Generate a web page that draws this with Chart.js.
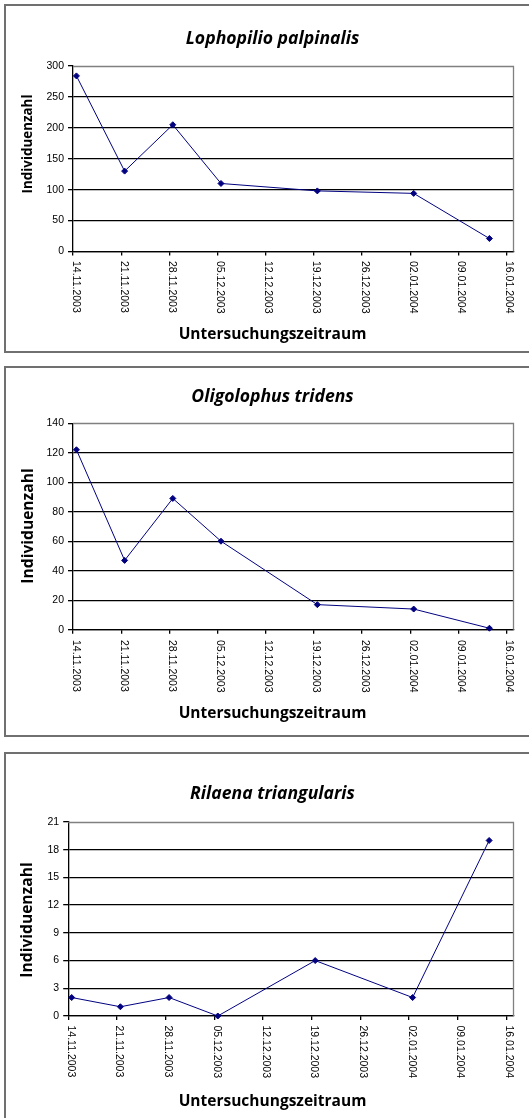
<!DOCTYPE html>
<html><head><meta charset="utf-8">
<script src="https://cdn.jsdelivr.net/npm/chart.js@4.4.1/dist/chart.umd.min.js"></script>
<style>
html,body{margin:0;padding:0;background:#fff;width:529px;height:1118px;overflow:hidden;position:relative}
.box{position:absolute;left:4px;width:600px;border:2px solid #707070;box-sizing:border-box}
canvas{position:absolute;left:0}
</style></head><body>
<div class="box" style="top:4px;height:349px"></div>
<div class="box" style="top:366px;height:371px"></div>
<div class="box" style="top:752px;height:400px"></div>
<canvas id="c1" width="529" height="356" style="top:0px"></canvas>
<canvas id="c2" width="529" height="380" style="top:358px"></canvas>
<canvas id="c3" width="529" height="374" style="top:744px"></canvas>
<script>
// ---- data ----
const xTickLabels = ["14.11.2003","21.11.2003","28.11.2003","05.12.2003","12.12.2003","19.12.2003","26.12.2003","02.01.2004","09.01.2004","16.01.2004"];
const sampleDates = ["14.11.2003","21.11.2003","28.11.2003","05.12.2003","19.12.2003","02.01.2004","13.01.2004"];
const lophopilioValues = [284,130,205,110,98,94,21];
const oligolophusValues = [122,47,89,60,17,14,1];
const rilaenaValues = [2,1,2,0,6,2,19];
const lophopilioYTicks = [0,50,100,150,200,250,300];
const oligolophusYTicks = [0,20,40,60,80,100,120,140];
const rilaenaYTicks = [0,3,6,9,12,15,18,21];
const titles = ["Lophopilio palpinalis","Oligolophus tridens","Rilaena triangularis"];
const yAxisTitle = "Individuenzahl";
const xAxisTitle = "Untersuchungszeitraum";

function parseDate(s){const p=s.split('.').map(Number);return Date.UTC(p[2],p[1]-1,p[0]);}
const t0 = parseDate(xTickLabels[0]);
function dayIndex(s){return Math.round((parseDate(s)-t0)/864e5);}
const tickDays = xTickLabels.map(dayIndex);
const pointDays = sampleDates.map(d=>dayIndex(d)+0.5); // Excel date axis: points centred in their day
const axisMax = tickDays[tickDays.length-1]+1;

// ---- layout (page coordinates) ----
const layouts = [
 {id:'c1',top:0,h:356,plot:{l:73,r:513.5,t:66,b:251.5},titleY:38.8,xTitleY:334.5,labelTop:261,yTitleX:28,yTitleY:144,yTitleSize:13.4},
 {id:'c2',top:358,h:380,plot:{l:73,r:513.5,t:423.2,b:629.7},titleY:397,xTitleY:714,labelTop:640,yTitleX:28.7,yTitleY:526,yTitleSize:15.6},
 {id:'c3',top:744,h:374,plot:{l:68.2,r:513.5,t:822,b:1016},titleY:793.5,xTitleY:1102,labelTop:1025.5,yTitleX:28,yTitleY:920,yTitleSize:15.6}
];
const series = [lophopilioValues,oligolophusValues,rilaenaValues];
const yTickSets = [lophopilioYTicks,oligolophusYTicks,rilaenaYTicks];

const decor = {
 id:'decor',
 beforeDatasetsDraw(chart){
  const a=chart.chartArea,ctx=chart.ctx;
  ctx.save();ctx.strokeStyle='#808080';ctx.lineWidth=1.3;
  ctx.beginPath();ctx.moveTo(a.left,Math.round(a.top)+0.5);ctx.lineTo(Math.round(a.right)-0.5,Math.round(a.top)+0.5);
  ctx.lineTo(Math.round(a.right)-0.5,a.bottom);ctx.stroke();ctx.restore();
 },
 afterDraw(chart,args,o){
  const ctx=chart.ctx,L=o.L,xs=chart.scales.x;
  ctx.save();
  ctx.fillStyle='#000';
  ctx.font='italic bold 17.6px "Open Sans"';ctx.textAlign='center';ctx.textBaseline='middle';
  ctx.fillText(o.title,272.5,L.titleY-L.top);
  ctx.font='bold 15.5px "Open Sans"';
  ctx.fillText(xAxisTitle,272.5,L.xTitleY-L.top);
  ctx.save();ctx.translate(L.yTitleX,L.yTitleY-L.top);ctx.rotate(-Math.PI/2);
  ctx.font='bold '+L.yTitleSize+'px "Open Sans"';ctx.fillText(yAxisTitle,0,0);ctx.restore();
  ctx.font='10.5px "Liberation Sans"';ctx.textAlign='left';ctx.textBaseline='alphabetic';
  xTickLabels.forEach((lab,i)=>{
   const px=xs.getPixelForValue(tickDays[i]);
   ctx.save();ctx.translate(px-0.5,L.labelTop-L.top);ctx.rotate(Math.PI/2);ctx.fillText(lab,0,0);ctx.restore();
  });
  ctx.restore();
 }
};

layouts.forEach((L,i)=>{
 const yt=yTickSets[i];const ymax=yt[yt.length-1];
 new Chart(document.getElementById(L.id),{
  type:'line',
  data:{datasets:[{data:pointDays.map((d,k)=>({x:d,y:series[i][k]})),borderColor:'#000080',borderWidth:1,
   pointStyle:'rectRot',pointRadius:3,pointBackgroundColor:'#000080',pointBorderColor:'#000080',pointBorderWidth:1,tension:0,clip:false}]},
  options:{
   responsive:false,animation:false,devicePixelRatio:1,
   layout:{padding:{left:0,top:L.plot.t-L.top,right:529-L.plot.r,bottom:0}},
   plugins:{legend:{display:false},tooltip:{enabled:false},title:{display:false},
    decor:{L:L,title:titles[i]}},
   scales:{
    x:{type:'linear',min:0,max:axisMax,
     afterBuildTicks(s){s.ticks=tickDays.map(v=>({value:v}));},
     afterFit(s){s.height=L.top+L.h-L.plot.b;},
     ticks:{display:false},
     grid:{display:true,drawOnChartArea:false,drawTicks:true,tickLength:4,color:'#000',tickColor:'#000',lineWidth:1.3},
     border:{color:'#000',width:1.3}},
    y:{min:0,max:ymax,
     afterBuildTicks(s){s.ticks=yt.map(v=>({value:v}));},
     afterFit(s){s.width=L.plot.l;},
     ticks:{font:{family:'Liberation Sans',size:10.5},color:'#000',padding:4},
     grid:{color:(c)=>c.tick&&c.tick.value===ymax?'rgba(0,0,0,0)':'#000',tickColor:'#000',tickLength:5,lineWidth:1.3},
     border:{color:'#000',width:1.3}}
   }
  },
  plugins:[decor]
 });
});
</script>
</body></html>
